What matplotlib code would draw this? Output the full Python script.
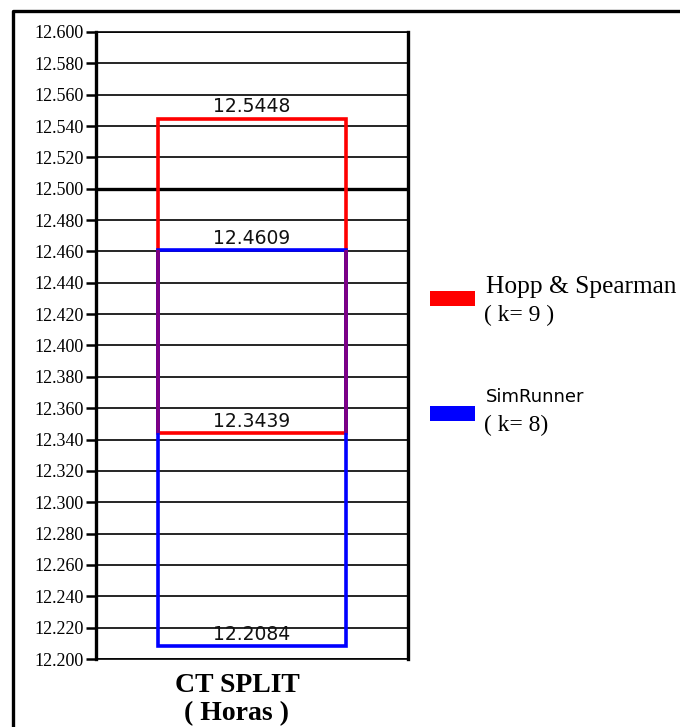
import numpy as np
import matplotlib
matplotlib.use("Agg")
import matplotlib.pyplot as plt
from matplotlib.patches import Rectangle
from matplotlib.lines import Line2D
import matplotlib.transforms as mtransforms

# ---- data ----
categories = ["CT SPLIT"]
unit_label = "( Horas )"
series_names = ["Hopp & Spearman", "SimRunner"]
series_k = ["( k= 9 )", "( k= 8)"]
series_low = [12.3439, 12.2084]
series_high = [12.5448, 12.4609]
series_colors = ["#ff0000", "#0000ff"]
overlap_color = "#800080"
target = 12.500
y_min, y_max, y_step = 12.200, 12.600, 0.020

W, H = 680, 727
fig = plt.figure(figsize=(W / 100, H / 100), dpi=100)
fig.patch.set_facecolor("white")

# outer frame (top and left visible)
fig.add_artist(Line2D([13 / W, 13 / W, 1.0], [0.0, 1 - 11 / H, 1 - 11 / H],
                      transform=fig.transFigure, color="black", lw=2.4))

ax = fig.add_axes([96 / W, 1 - 659 / H, 312 / W, 627 / H])
ax.set_xlim(-0.5, 0.5)
ax.set_ylim(y_min, y_max)
yt = np.round(np.arange(y_min, y_max + y_step / 2, y_step), 3)
ax.set_yticks(yt)
ax.set_yticklabels([f"{v:.3f}" for v in yt], family="Liberation Serif", fontsize=13)
ax.set_xticks([])
ax.tick_params(axis="y", direction="out", length=7, width=1.8, pad=2, color="black")
ax.yaxis.grid(True, color="black", lw=1.2)
ax.set_axisbelow(True)
for s in ["left", "right"]:
    ax.spines[s].set_linewidth(2.4)
for s in ["top", "bottom"]:
    ax.spines[s].set_linewidth(1.2)

ax.axhline(target, color="black", lw=2.4, zorder=1.5)

x0 = 0
bw = 0.6
for lo, hi, c in zip(series_low, series_high, series_colors):
    ax.bar(x0, hi - lo, bottom=lo, width=bw, fill=False, edgecolor=c, lw=2.6, zorder=3)

# overlap sides in purple
ov_lo = max(series_low)
ov_hi = min(series_high)
if ov_hi > ov_lo:
    ax.vlines([x0 - bw / 2, x0 + bw / 2], ov_lo, ov_hi, color=overlap_color, lw=2.6, zorder=4)

off = mtransforms.offset_copy(ax.transData, fig=fig, x=0, y=1.5, units="points")
for v in series_low + series_high:
    ax.text(x0, v, f"{v:.4f}", ha="center", va="bottom", transform=off,
            family="DejaVu Sans", fontsize=13.5, color="#111111", zorder=5)

# x category label
fig.text(237 / W, 1 - 692 / H, categories[0], ha="center", va="baseline",
         family="Liberation Serif", fontweight="bold", fontsize=20)
fig.text(237 / W, 1 - 720 / H, unit_label, ha="center", va="baseline",
         family="Liberation Serif", fontweight="bold", fontsize=20)

# legend
patch_y = [291, 406]
name_base = [293, 402]
k_base = [321, 431]
name_fonts = [("Liberation Serif", 18.3), ("DejaVu Sans", 13)]
for i in range(len(series_names)):
    fig.add_artist(Rectangle((430 / W, 1 - (patch_y[i] + 15) / H), 45 / W, 15 / H,
                             transform=fig.transFigure, facecolor=series_colors[i],
                             edgecolor="none"))
    fam, fs = name_fonts[i]
    fig.text(486 / W, 1 - name_base[i] / H, series_names[i], ha="left", va="baseline",
             family=fam, fontsize=fs)
    fig.text(484 / W, 1 - k_base[i] / H, series_k[i], ha="left", va="baseline",
             family="Liberation Serif", fontsize=17)

fig.savefig("out.png", dpi=100)
